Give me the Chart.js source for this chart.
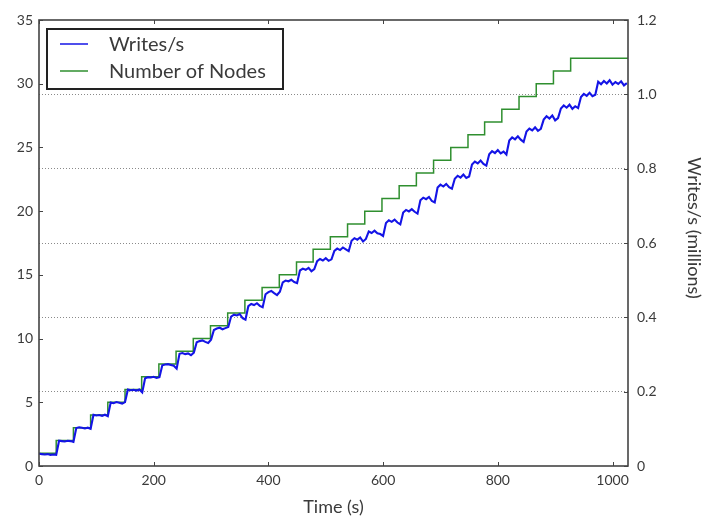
<!DOCTYPE html>
<html><head><meta charset="utf-8">
<script src="https://cdn.jsdelivr.net/npm/chart.js@4.4.0/dist/chart.umd.min.js"></script>
<style>html,body{margin:0;padding:0;background:#fff;}#wrap{width:702px;height:518px;}</style>
</head><body><div id="wrap"><canvas id="c" width="702" height="518"></canvas></div>
<script>
// ---- data ----
const sampleTimes = [
 0,5,10,15,20,25,30,35,40,45,50,55,60,65,70,75,80,85,90,95,
 100,105,110,115,120,125,130,135,140,145,150,155,160,165,170,175,180,185,190,195,
 200,205,210,215,220,225,230,235,240,245,250,255,260,265,270,275,280,285,290,295,
 300,305,310,315,320,325,330,335,340,345,350,355,360,365,370,375,380,385,390,395,
 400,405,410,415,420,425,430,435,440,445,450,455,460,465,470,475,480,485,490,495,
 500,505,510,515,520,525,530,535,540,545,550,555,560,565,570,575,580,585,590,595,
 600,605,610,615,620,625,630,635,640,645,650,655,660,665,670,675,680,685,690,695,
 700,705,710,715,720,725,730,735,740,745,750,755,760,765,770,775,780,785,790,795,
 800,805,810,815,820,825,830,835,840,845,850,855,860,865,870,875,880,885,890,895,
 900,905,910,915,920,925,930,935,940,945,950,955,960,965,970,975,980,985,990,995,
 1000,1005,1010,1015,1020,1025
];
const writesPerSec = [
 0.033,0.032,0.031,0.032,0.030,0.031,0.030,
 0.068,0.067,0.066,0.068,0.067,0.065,
 0.102,0.104,0.103,0.101,0.103,0.100,
 0.138,0.136,0.137,0.135,0.138,0.134,
 0.171,0.169,0.172,0.170,0.168,0.172,
 0.206,0.204,0.205,0.203,0.206,0.198,
 0.236,0.239,0.238,0.240,0.237,0.239,
 0.271,0.273,0.274,0.272,0.270,0.262,
 0.302,0.304,0.301,0.303,0.298,0.305,
 0.333,0.336,0.338,0.334,0.331,0.340,
 0.366,0.370,0.372,0.368,0.371,0.374,
 0.402,0.407,0.405,0.409,0.398,0.394,
 0.430,0.436,0.433,0.438,0.431,0.427,
 0.462,0.468,0.471,0.465,0.460,0.469,
 0.494,0.499,0.497,0.501,0.495,0.492,
 0.526,0.531,0.528,0.533,0.524,0.530,
 0.551,0.557,0.553,0.559,0.552,0.556,
 0.579,0.585,0.581,0.588,0.583,0.578,
 0.606,0.613,0.609,0.615,0.604,0.611,
 0.631,0.627,0.633,0.626,0.624,0.619,
 0.654,0.661,0.657,0.663,0.655,0.650,
 0.682,0.689,0.685,0.691,0.684,0.679,
 0.715,0.722,0.718,0.724,0.713,0.709,
 0.749,0.757,0.752,0.759,0.750,0.746,
 0.773,0.781,0.776,0.784,0.775,0.779,
 0.811,0.819,0.814,0.822,0.813,0.808,
 0.839,0.847,0.842,0.850,0.841,0.846,0.838,
 0.876,0.884,0.879,0.887,0.878,0.872,
 0.900,0.908,0.903,0.911,0.902,0.907,
 0.932,0.941,0.935,0.943,0.930,0.936,
 0.962,0.970,0.964,0.972,0.961,0.968,0.963,
 0.993,1.001,0.996,1.004,0.995,0.999,
 1.034,1.027,1.036,1.029,1.038,1.026,1.033,1.028,1.035,1.024,1.030
];
const nodeTimes = [0,30,60,90,120,150,179,209,239,269,299,329,359,389,419,449,478,508,538,568,598,628,658,688,718,748,777,807,837,867,897,927,1027];
const nodeCounts = [1,2,3,4,5,6,7,8,9,10,11,12,13,14,15,16,17,18,19,20,21,22,23,24,25,26,27,28,29,30,31,32,32];
const xTickValues = [0,200,400,600,800,1000];
const leftTickValues = [0,5,10,15,20,25,30,35];
const rightTickValues = [0,0.2,0.4,0.6,0.8,1.0,1.2];
const seriesNames = ['Writes/s','Number of Nodes'];
const xTitle = 'Time (s)';
const rightTitle = 'Writes/s (millions)';

// ---- chart ----
const FONT = 'Lato';
const TXT = '#3a3a3a';
const BLUE = '#1414e6';
const GREEN = '#2f8f2f';

const decor = {
  id: 'decor',
  afterDraw(chart) {
    const ctx = chart.ctx, a = chart.chartArea;
    const sx = chart.scales.x, sy = chart.scales.y, sy2 = chart.scales.y2;
    ctx.save();
    // tick marks (inward)
    ctx.strokeStyle = '#444'; ctx.lineWidth = 1;
    ctx.beginPath();
    xTickValues.forEach(v => {
      const px = Math.round(sx.getPixelForValue(v)) + 0.5;
      ctx.moveTo(px, a.bottom); ctx.lineTo(px, a.bottom - 4);
      ctx.moveTo(px, a.top); ctx.lineTo(px, a.top + 4);
    });
    leftTickValues.forEach(v => {
      const py = Math.round(sy.getPixelForValue(v)) + 0.5;
      ctx.moveTo(a.left, py); ctx.lineTo(a.left + 4, py);
    });
    rightTickValues.forEach(v => {
      const py = Math.round(sy2.getPixelForValue(v)) + 0.5;
      ctx.moveTo(a.right, py); ctx.lineTo(a.right - 4, py);
    });
    ctx.stroke();
    // frame
    ctx.strokeStyle = '#444'; ctx.lineWidth = 1.6;
    ctx.strokeRect(a.left, a.top, a.right - a.left, a.bottom - a.top);
    // legend
    ctx.fillStyle = '#fff';
    ctx.fillRect(47, 29, 236, 60);
    ctx.strokeStyle = '#222'; ctx.lineWidth = 2;
    ctx.strokeRect(47, 29, 236, 60);
    const ds = chart.data.datasets;
    const rows = [44, 71];
    ds.forEach((d, i) => {
      ctx.strokeStyle = d.borderColor; ctx.lineWidth = 1.5;
      ctx.beginPath(); ctx.moveTo(60, rows[i]); ctx.lineTo(88, rows[i]); ctx.stroke();
      ctx.fillStyle = TXT; ctx.font = '20px ' + FONT;
      ctx.textAlign = 'left'; ctx.textBaseline = 'middle';
      ctx.fillText(d.label, 109, rows[i] + 1);
    });
    // right axis title
    ctx.translate(694, 228);
    ctx.rotate(Math.PI / 2);
    ctx.fillStyle = TXT; ctx.font = '18px ' + FONT;
    ctx.textAlign = 'center'; ctx.textBaseline = 'middle';
    ctx.fillText(rightTitle, 0, 0);
    ctx.restore();
  }
};

new Chart(document.getElementById('c'), {
  type: 'line',
  plugins: [decor],
  data: {
    datasets: [
      { label: seriesNames[0], yAxisID: 'y2',
        data: sampleTimes.map((t, i) => ({ x: t, y: writesPerSec[i] })),
        borderColor: BLUE, borderWidth: 2.1, pointRadius: 0, tension: 0, fill: false },
      { label: seriesNames[1], yAxisID: 'y', stepped: true,
        data: nodeTimes.map((t, i) => ({ x: t, y: nodeCounts[i] })),
        borderColor: GREEN, borderWidth: 1.5, pointRadius: 0, fill: false }
    ]
  },
  options: {
    responsive: false, animation: false, devicePixelRatio: 1,
    layout: { padding: { top: 20, left: 0, right: 0, bottom: 0 } },
    plugins: { legend: { display: false }, tooltip: { enabled: false } },
    scales: {
      x: {
        type: 'linear', min: 0, max: 1027,
        afterBuildTicks: s => { s.ticks = xTickValues.map(v => ({ value: v })); },
        ticks: { font: { family: FONT, size: 14 }, color: TXT, padding: 6, maxRotation: 0,
          callback: v => String(v) },
        grid: { display: false, drawTicks: false },
        border: { display: false },
        title: { display: true, text: xTitle, font: { family: FONT, size: 18 }, color: TXT, padding: 0 },
        afterFit: s => { s.height = 52; }
      },
      y: {
        position: 'left', min: 0, max: 35,
        afterBuildTicks: s => { s.ticks = leftTickValues.map(v => ({ value: v })); },
        ticks: { font: { family: FONT, size: 14 }, color: TXT, padding: 6 },
        grid: { display: false, drawTicks: false },
        border: { display: false },
        afterFit: s => { s.width = 39; }
      },
      y2: {
        position: 'right', min: 0, max: 1.2,
        afterBuildTicks: s => { s.ticks = rightTickValues.map(v => ({ value: v })); },
        ticks: { font: { family: FONT, size: 14 }, color: TXT, padding: 9,
          callback: v => (Math.abs(v) < 1e-9 ? '0' : Number(v).toFixed(1)) },
        grid: { drawTicks: false, lineWidth: 1,
          color: c => { const v = c.tick ? c.tick.value : 0; return (v < 0.01 || v > 1.19) ? 'rgba(0,0,0,0)' : '#8a8a8a'; } },
        border: { display: false, dash: [1, 2] },
        afterFit: s => { s.width = 74; }
      }
    }
  }
});
</script>
</body></html>
